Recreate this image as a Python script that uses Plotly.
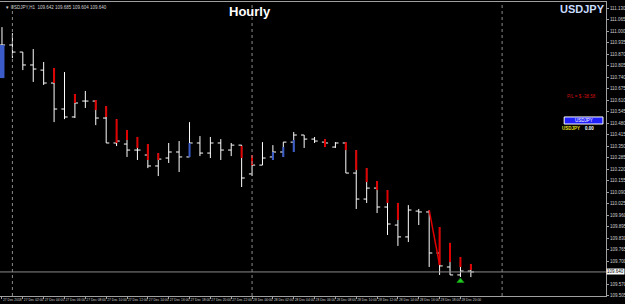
import plotly.graph_objects as go

# ---------------- data ----------------
bar_index = list(range(46))
opens = [110.923, 110.923, 110.883, 110.810, 110.781, 110.708, 110.561, 110.516, 110.606, 110.606,
         110.510, 110.369, 110.363, 110.329, 110.301, 110.239, 110.284, 110.318, 110.290, 110.369,
         110.312, 110.369, 110.329, 110.357, 110.194, 110.244, 110.290, 110.318, 110.374, 110.414,
         110.391, 110.374, 110.346, 110.369, 110.199, 110.052, 110.114, 110.007, 109.905, 109.838,
         109.984, 109.979, 109.747, 109.668, 109.623, 109.645]
highs = [111.024, 110.990, 110.883, 110.900, 110.827, 110.793, 110.770, 110.646, 110.663, 110.612,
         110.578, 110.504, 110.442, 110.403, 110.363, 110.312, 110.369, 110.380, 110.487, 110.408,
         110.403, 110.391, 110.369, 110.357, 110.301, 110.374, 110.357, 110.374, 110.431, 110.414,
         110.403, 110.391, 110.374, 110.374, 110.329, 110.227, 110.154, 110.103, 110.030, 110.018,
         109.996, 109.990, 109.894, 109.804, 109.724, 109.685]
lows = [110.736, 110.849, 110.781, 110.714, 110.697, 110.487, 110.504, 110.510, 110.567, 110.470,
        110.369, 110.352, 110.290, 110.273, 110.227, 110.182, 110.256, 110.205, 110.290, 110.295,
        110.284, 110.273, 110.295, 110.120, 110.182, 110.244, 110.273, 110.290, 110.318, 110.341,
        110.369, 110.346, 110.341, 110.199, 109.996, 110.030, 109.973, 109.849, 109.787, 109.809,
        109.905, 109.668, 109.623, 109.623, 109.611, 109.611]
closes = [110.923, 110.883, 110.810, 110.787, 110.708, 110.561, 110.516, 110.595, 110.606, 110.510,
          110.369, 110.380, 110.329, 110.329, 110.239, 110.278, 110.318, 110.290, 110.369, 110.312,
          110.369, 110.329, 110.357, 110.171, 110.244, 110.284, 110.318, 110.374, 110.414, 110.391,
          110.380, 110.369, 110.369, 110.199, 110.052, 110.114, 110.007, 109.911, 109.838, 109.990,
          109.979, 109.747, 109.674, 109.623, 109.645, 109.640]

# indicator segments (red = bearish, blue = bullish)
red_idx = [5, 7, 9, 10, 11, 12, 13, 14, 15, 23, 24, 31, 33, 34, 35, 36, 37, 38, 42, 43, 44, 45]
red_top = [110.793, 110.646, 110.612, 110.578, 110.504, 110.442, 110.403, 110.363, 110.312, 110.352,
           110.301, 110.391, 110.374, 110.329, 110.227, 110.154, 110.103, 110.030, 109.894, 109.804,
           109.724, 109.685]
red_bot = [110.708, 110.595, 110.555, 110.516, 110.369, 110.386, 110.341, 110.273, 110.273, 110.284,
           110.244, 110.346, 110.329, 110.216, 110.148, 110.103, 110.030, 109.934, 109.679, 109.696,
           109.668, 109.651]
blue_idx = [18, 26, 27, 28]
blue_top = [110.369, 110.318, 110.346, 110.386]
blue_bot = [110.290, 110.273, 110.290, 110.318]
first_blue_idx = [0]
first_blue_top = [110.923]
first_blue_bot = [110.736]

trend_idx = [41, 42]
trend_val = [109.990, 109.679]

signal_idx = [44]
signal_val = [109.589]

current_price = 109.640

y_ticks = [109.505, 109.570, 109.700, 109.765, 109.830, 109.895, 109.960, 110.025, 110.090,
           110.155, 110.220, 110.285, 110.350, 110.415, 110.480, 110.545, 110.610, 110.675, 110.740,
           110.805, 110.870, 110.935, 111.000, 111.065, 111.130]

x_tick_idx = list(range(0, 46, 2))
x_tick_text = ["27 Dec 2018"] + ["27 Dec %02d:00" % h for h in range(2, 24, 2)] + \
              ["28 Dec %02d:00" % h for h in range(0, 22, 2)]

day_separators = [1, 24, 48]


def segs(idx, top, bot):
    xs, ys = [], []
    for i, t, b in zip(idx, top, bot):
        xs += [i, i, None]
        ys += [t, b, None]
    return xs, ys


fig = go.Figure()
fig.add_trace(go.Ohlc(
    x=bar_index, open=opens, high=highs, low=lows, close=closes,
    increasing=dict(line=dict(color="#ffffff", width=1)),
    decreasing=dict(line=dict(color="#ffffff", width=1)),
    tickwidth=0.3, hoverinfo="skip", showlegend=False))

rx, ry = segs(red_idx, red_top, red_bot)
fig.add_trace(go.Scatter(x=rx, y=ry, mode="lines", line=dict(color="#e00000", width=2),
                         hoverinfo="skip", showlegend=False))
bx, by = segs(blue_idx, blue_top, blue_bot)
fig.add_trace(go.Scatter(x=bx, y=by, mode="lines", line=dict(color="#3a5bc8", width=2),
                         hoverinfo="skip", showlegend=False))
fx, fy = segs(first_blue_idx, first_blue_top, first_blue_bot)
fig.add_trace(go.Scatter(x=fx, y=fy, mode="lines", line=dict(color="#3a5bc8", width=5),
                         hoverinfo="skip", showlegend=False))
fig.add_trace(go.Scatter(x=trend_idx, y=trend_val, mode="lines", line=dict(color="#e00000", width=1.5),
                         hoverinfo="skip", showlegend=False))
fig.add_trace(go.Scatter(x=signal_idx, y=signal_val, mode="markers",
                         marker=dict(symbol="triangle-up", size=6, color="#22cc22",
                                     line=dict(color="#118811", width=1)),
                         hoverinfo="skip", showlegend=False))

shapes = []
for s in day_separators:
    shapes.append(dict(type="line", xref="x", yref="paper", x0=s, x1=s, y0=0, y1=1,
                       line=dict(color="#8a8a8a", width=1, dash="dot")))
shapes.append(dict(type="line", xref="paper", yref="y", x0=0, x1=1, y0=current_price, y1=current_price,
                   line=dict(color="#8a8a8a", width=1)))
shapes.append(dict(type="rect", xref="paper", yref="paper", x0=0.931, x1=0.995, y0=0.585, y1=0.609,
                   fillcolor="#2020ff", line=dict(color="#ffffff", width=1)))

small = dict(family="Liberation Sans, Arial", size=4.5, color="#d0d0d0")
xfont = dict(family="Liberation Sans, Arial", size=3.3, color="#d0d0d0")


def note(x, y, text, font, xanchor="center", yanchor="middle", **kw):
    return dict(xref="paper", yref="paper", x=x, y=y, xanchor=xanchor, yanchor=yanchor,
                showarrow=False, text=text, font=font, **kw)


annotations = [
    note(0.005, 0.998, "▼ USDJPY,H1  109.642 109.685 109.604 109.640", small, "left", "top"),
    note(0.4125, 0.966, "<b>Hourly</b>", dict(family="Liberation Sans, Arial", size=13, color="#ffffff")),
    note(0.962, 0.976, "<b>USDJPY</b>", dict(family="Liberation Sans, Arial", size=11, color="#c8dcff")),
    note(0.960, 0.677, "P/L = $ -38.58", dict(family="Liberation Sans, Arial", size=4.5, color="#d01010")),
    note(0.963, 0.597, "USDJPY", dict(family="Liberation Sans, Arial", size=4.5, color="#ffffff")),
    note(0.942, 0.571, "<b>USDJPY</b>", dict(family="Liberation Sans, Arial", size=4.5, color="#e8e020")),
    note(0.972, 0.571, "<b>0.00</b>", dict(family="Liberation Sans, Arial", size=4.5, color="#ffffff")),
    dict(xref="paper", yref="y", x=1.0, y=current_price, xanchor="left", yanchor="middle", showarrow=False,
         text="109.640", bgcolor="#ffffff", borderpad=0,
         font=dict(family="Liberation Sans, Arial", size=4.5, color="#000000")),
]

fig.update_layout(
    width=625, height=304, autosize=False,
    margin=dict(l=0, r=19, t=2, b=8),
    paper_bgcolor="#000000", plot_bgcolor="#000000",
    shapes=shapes, annotations=annotations,
    xaxis=dict(range=[-0.19, 57.97], rangeslider=dict(visible=False), showgrid=False, zeroline=False,
               tickvals=x_tick_idx, ticktext=x_tick_text, tickfont=xfont, tickangle=0,
               ticks="outside", ticklen=2, automargin=False,
               tickcolor="#a0a0a0", ticklabelposition="outside right",
               showline=True, linecolor="#a0a0a0", mirror=True),
    yaxis=dict(range=[109.504, 111.166], side="right", showgrid=False, zeroline=False,
               tickvals=y_ticks, ticktext=["%.3f" % v for v in y_ticks], tickfont=small,
               ticks="outside", ticklen=2, tickcolor="#a0a0a0", automargin=False,
               showline=True, linecolor="#a0a0a0", mirror=True),
)

fig.write_html("out.html")
